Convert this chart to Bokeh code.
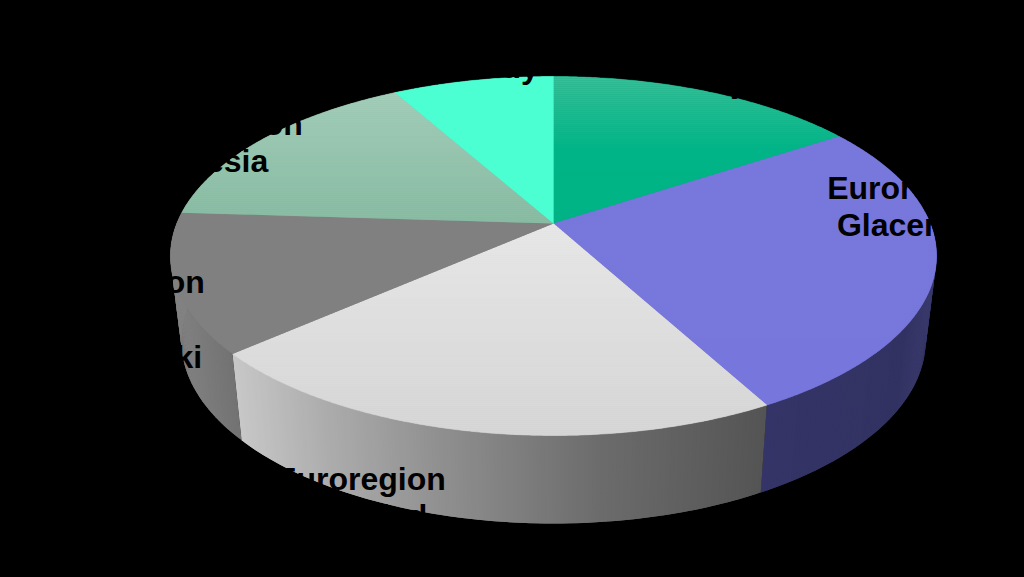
import math
from bokeh.plotting import figure
from bokeh.models import ColumnDataSource, Range1d
from bokeh.core.properties import value
from bokeh.embed import file_html
from bokeh.resources import INLINE

# Data (share of the whole, %), clockwise from 12 o'clock
regions = ["Nysa", "Glacensis", "Pradziad", "Śląsk Cieszyński", "Silesia", "Beskidy"]
shares = [15.7, 26.4, 21.4, 12.5, 15.9, 8.1]

# Labels: lines, centre x, first baseline y (page pixels)
label_lines = [
    ["Euroregion", "Nysa"],
    ["Euroregion", "Glacensis"],
    ["Euroregion", "Pradziad"],
    ["Euroregion", "Śląsk", "Cieszyński"],
    ["Euroregion", "Silesia"],
    ["Euroregion", "Beskidy"],
]
label_x = [745, 912, 360, 119, 217, 477]
label_y = [55, 199, 490, 293, 135, 40.5]
LINE_H = 37.6
FONT_PX = 32
TEXT_DY = -12  # how the text glyph's alphabetic baseline lands on the page

# Top-face colour: (page y, RGB) stops
top_stops = [
    [(76, (66, 187, 150)), (150, (0, 180, 135)), (230, (0, 178, 133))],
    [(130, (120, 120, 220)), (410, (118, 118, 220))],
    [(225, (231, 231, 231)), (435, (212, 212, 212))],
    [(210, (128, 128, 128)), (355, (128, 128, 128))],
    [(92, (163, 205, 185)), (225, (133, 185, 160))],
    [(76, (76, 255, 210)), (225, (76, 255, 210))],
]
# Side-wall colour: (page x, RGB) stops
side_stops = [
    [(553, (0, 120, 90)), (936, (0, 120, 90))],
    [(761, (52, 52, 104)), (900, (50, 50, 98)), (936, (60, 60, 112))],
    [(236, (200, 200, 200)), (330, (172, 172, 172)), (440, (144, 144, 144)),
     (600, (108, 108, 108)), (766, (84, 84, 84))],
    [(170, (132, 132, 132)), (240, (114, 114, 114))],
    [(170, (100, 140, 120)), (400, (100, 140, 120))],
    [(400, (50, 170, 140)), (553, (50, 170, 140))],
]

# Projection of the 3D pie disc
CX = 553.0
K = 0.181
TOP_Y0, TOP_A, TOP_B = 223.0, 173.6, 376.7
BOT_Y0, BOT_A, BOT_B = 306.9, 177.0, 366.0


def project(t, y0, a, b):
    u, v = math.sin(t), math.cos(t)
    w = 1 + K * v
    return CX + b * u / w, y0 - a * v / w


def lerp_stops(stops, s):
    if s <= stops[0][0]:
        return stops[0][1]
    for (s0, c0), (s1, c1) in zip(stops, stops[1:]):
        if s <= s1:
            f = (s - s0) / (s1 - s0)
            return tuple(c0[i] + (c1[i] - c0[i]) * f for i in range(3))
    return stops[-1][1]


def hexc(c):
    return "#%02x%02x%02x" % tuple(int(round(x)) for x in c)


def clip_half(points, y, keep_above):
    inside = (lambda q: q[1] <= y) if keep_above else (lambda q: q[1] >= y)
    out = []
    for i, a in enumerate(points):
        b = points[(i + 1) % len(points)]
        if inside(a):
            out.append(a)
        if inside(a) != inside(b):
            r = (y - a[1]) / (b[1] - a[1])
            out.append((a[0] + (b[0] - a[0]) * r, y))
    return out


total = sum(shares)
edges = [0.0]
for s in shares:
    edges.append(edges[-1] + 2 * math.pi * s / total)

side_xs, side_ys, side_c = [], [], []
base_xs, base_ys, base_c = [], [], []
top_xs, top_ys, top_c = [], [], []
for i in range(len(shares)):
    a0, a1 = edges[i], edges[i + 1]
    n = max(4, int(math.degrees(a1 - a0) * 2))
    ts = [a0 + (a1 - a0) * j / n for j in range(n + 1)]
    # side wall: overlapping strips, near half only
    for j in range(n):
        t0, t1 = ts[j], ts[min(j + 2, n)]
        if math.cos(t0) > 0.05 and math.cos(t1) > 0.05:
            continue
        tp0, tp1 = project(t0, TOP_Y0, TOP_A, TOP_B), project(t1, TOP_Y0, TOP_A, TOP_B)
        bp0, bp1 = project(t0, BOT_Y0, BOT_A, BOT_B), project(t1, BOT_Y0, BOT_A, BOT_B)
        side_xs.append([tp0[0], tp1[0], bp1[0], bp0[0]])
        side_ys.append([tp0[1], tp1[1], bp1[1], bp0[1]])
        side_c.append(hexc(lerp_stops(side_stops[i], (tp0[0] + bp0[0]) / 2)))
    # top face: solid base, then whole-pixel bands for the vertical gradient
    poly = [(CX, TOP_Y0)] + [project(t, TOP_Y0, TOP_A, TOP_B) for t in ts]
    ymin = min(q[1] for q in poly)
    ymax = max(q[1] for q in poly)
    base_xs.append([q[0] for q in poly])
    base_ys.append([q[1] for q in poly])
    base_c.append(hexc(lerp_stops(top_stops[i], (ymin + ymax) / 2)))
    y = math.floor(ymin)
    while y < ymax:
        band = clip_half(clip_half(poly, y, False), y + 2, True)
        if len(band) >= 3:
            top_xs.append([q[0] for q in band])
            top_ys.append([q[1] for q in band])
            top_c.append(hexc(lerp_stops(top_stops[i], y + 1)))
        y += 2

p = figure(width=1024, height=577, output_backend="svg", toolbar_location=None,
           x_range=Range1d(0, 1024), y_range=Range1d(577, 0),
           min_border=0, background_fill_color="black", border_fill_color="black",
           outline_line_color=None, x_axis_location=None, y_axis_location=None)
p.grid.visible = False

p.patches("xs", "ys", fill_color="c", line_color=None,
          source=ColumnDataSource(dict(xs=side_xs, ys=side_ys, c=side_c)))
p.patches("xs", "ys", fill_color="c", line_color="c", line_width=0.5,
          source=ColumnDataSource(dict(xs=base_xs, ys=base_ys, c=base_c)))
p.patches("xs", "ys", fill_color="c", line_color=None,
          source=ColumnDataSource(dict(xs=top_xs, ys=top_ys, c=top_c)))

tx, ty, tt = [], [], []
for lines, lx, ly in zip(label_lines, label_x, label_y):
    for j, line in enumerate(lines):
        tx.append(lx)
        ty.append(ly + j * LINE_H + TEXT_DY)
        tt.append(line)
p.text(tx, ty, text=tt, text_color="black", text_align="center", text_baseline="alphabetic",
       text_font=value("Liberation Sans"), text_font_style="bold",
       text_font_size=f"{FONT_PX}px")

html = file_html(p, INLINE, title="Euroregiony")
html = html.replace("</head>", "<style>html,body{background:#000;overflow:hidden}</style></head>")
open("out.html", "w").write(html)
